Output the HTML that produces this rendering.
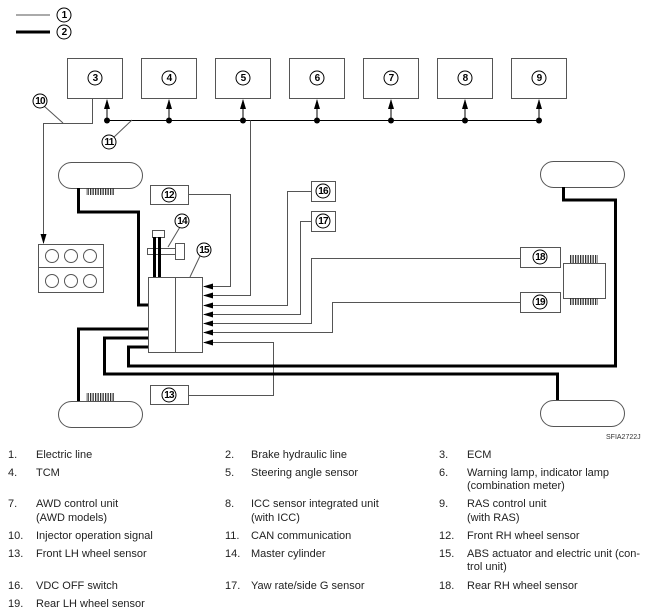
<!DOCTYPE html>
<html><head><meta charset="utf-8"><style>
body{margin:0;background:#fff;width:653px;height:616px;overflow:hidden;font-family:"Liberation Sans",Arial,sans-serif}
svg{position:absolute;left:0;top:0}
.t{font-size:11px;fill:#222}
.n{font-size:10px;font-weight:bold;fill:#000;text-anchor:middle;dominant-baseline:central;letter-spacing:-0.8px}
</style></head><body>
<svg width="653" height="616" viewBox="0 0 653 616">
<defs>
<marker id="ar" markerWidth="10" markerHeight="8" refX="9" refY="4" orient="auto" markerUnits="userSpaceOnUse"><path d="M0,1 L10,4 L0,7 Z" fill="#000"/></marker>
<pattern id="tr" width="2.5" height="8" patternUnits="userSpaceOnUse"><rect width="1.3" height="8" fill="#333"/></pattern>
</defs>
<g fill="none" stroke="#555" stroke-width="1">
<line x1="16" y1="15" x2="50" y2="15"/>
<line x1="16" y1="32" x2="50" y2="32" stroke="#000" stroke-width="3"/>
<rect x="67.5" y="58.5" width="55" height="40"/>
<rect x="141.5" y="58.5" width="55" height="40"/>
<rect x="215.5" y="58.5" width="55" height="40"/>
<rect x="289.5" y="58.5" width="55" height="40"/>
<rect x="363.5" y="58.5" width="55" height="40"/>
<rect x="437.5" y="58.5" width="55" height="40"/>
<rect x="511.5" y="58.5" width="55" height="40"/>
<line x1="107" y1="120.5" x2="539" y2="120.5" stroke="#000"/>
<polyline points="92.5,98 92.5,123.5 43.5,123.5 43.5,243" marker-end="url(#ar)"/>
<line x1="44" y1="106" x2="63" y2="123"/>
<line x1="113" y1="138" x2="132" y2="120"/>
<rect x="58.5" y="162.5" width="84" height="26" rx="13"/>
<rect x="58.5" y="401.5" width="84" height="26" rx="13"/>
<rect x="540.5" y="161.5" width="84" height="26" rx="13"/>
<rect x="540.5" y="400.5" width="84" height="26" rx="13"/>
<rect x="38.5" y="244.5" width="65" height="48"/>
<line x1="38.5" y1="267.5" x2="103.5" y2="267.5"/>
<circle cx="52" cy="256" r="6.5"/><circle cx="71" cy="256" r="6.5"/><circle cx="90" cy="256" r="6.5"/>
<circle cx="52" cy="281" r="6.5"/><circle cx="71" cy="281" r="6.5"/><circle cx="90" cy="281" r="6.5"/>
<rect x="148.5" y="277.5" width="54" height="75"/>
<line x1="175.5" y1="277.5" x2="175.5" y2="352.5"/>
<rect x="152.5" y="230.5" width="12" height="7"/>
<rect x="147.5" y="248.5" width="28" height="6"/>
<rect x="175.5" y="243.5" width="9" height="16"/>
<line x1="168" y1="247" x2="180" y2="227"/>
<line x1="190" y1="277" x2="200" y2="256"/>
<rect x="150.5" y="185.5" width="38" height="19"/>
<rect x="150.5" y="385.5" width="38" height="19"/>
<rect x="311.5" y="181.5" width="24" height="20"/>
<rect x="311.5" y="211.5" width="24" height="20"/>
<rect x="520.5" y="247.5" width="40" height="20"/>
<rect x="520.5" y="292.5" width="40" height="20"/>
<rect x="563.5" y="263.5" width="42" height="35"/>
<polyline points="188,194.5 230.5,194.5 230.5,286.5 204,286.5" marker-end="url(#ar)"/>
<polyline points="250.5,120.5 250.5,295.5 204,295.5" marker-end="url(#ar)"/>
<polyline points="311,191.5 287.5,191.5 287.5,305.5 204,305.5" marker-end="url(#ar)"/>
<polyline points="311,221.5 300.5,221.5 300.5,314.5 204,314.5" marker-end="url(#ar)"/>
<polyline points="520,258.5 311.5,258.5 311.5,323.5 204,323.5" marker-end="url(#ar)"/>
<polyline points="520,302.5 332.5,302.5 332.5,332.5 204,332.5" marker-end="url(#ar)"/>
<polyline points="188,395.5 273.5,395.5 273.5,342.5 204,342.5" marker-end="url(#ar)"/>
<line x1="107" y1="120" x2="107" y2="100" stroke="#000" marker-end="url(#ar)"/>
<line x1="169" y1="120" x2="169" y2="100" stroke="#000" marker-end="url(#ar)"/>
<line x1="243" y1="120" x2="243" y2="100" stroke="#000" marker-end="url(#ar)"/>
<line x1="317" y1="120" x2="317" y2="100" stroke="#000" marker-end="url(#ar)"/>
<line x1="391" y1="120" x2="391" y2="100" stroke="#000" marker-end="url(#ar)"/>
<line x1="465" y1="120" x2="465" y2="100" stroke="#000" marker-end="url(#ar)"/>
<line x1="539" y1="120" x2="539" y2="100" stroke="#000" marker-end="url(#ar)"/>
</g>
<g fill="#000">
<circle cx="107" cy="120.5" r="3"/><circle cx="169" cy="120.5" r="3"/><circle cx="243" cy="120.5" r="3"/><circle cx="317" cy="120.5" r="3"/><circle cx="391" cy="120.5" r="3"/><circle cx="465" cy="120.5" r="3"/><circle cx="539" cy="120.5" r="3"/>
</g>
<rect x="86" y="188" width="28" height="7" fill="url(#tr)"/>
<rect x="86" y="393" width="28" height="8" fill="url(#tr)"/>
<rect x="570" y="255" width="28" height="8" fill="url(#tr)"/>
<rect x="570" y="298" width="28" height="7" fill="url(#tr)"/>
<g fill="none" stroke="#000" stroke-width="3">
<polyline points="78.5,188 78.5,212 138.5,212 138.5,305 148,305"/>
<polyline points="148,329 78.5,329 78.5,401"/>
<polyline points="148,338 104.5,338 104.5,374 557.5,374 557.5,400"/>
<polyline points="148,347 128.5,347 128.5,366 615.5,366 615.5,200 563.5,200 563.5,187"/>
<line x1="154.5" y1="237" x2="154.5" y2="277"/>
<line x1="159.5" y1="237" x2="159.5" y2="277"/>
</g>
<g fill="#fff" stroke="#000" stroke-width="1">
<circle cx="64" cy="15" r="7"/><circle cx="64" cy="32" r="7"/>
<circle cx="95" cy="78" r="7"/><circle cx="169" cy="78" r="7"/><circle cx="243" cy="78" r="7"/><circle cx="317" cy="78" r="7"/><circle cx="391" cy="78" r="7"/><circle cx="465" cy="78" r="7"/><circle cx="539" cy="78" r="7"/>
<circle cx="40" cy="101" r="7"/><circle cx="109" cy="142" r="7"/>
<circle cx="169" cy="195" r="7"/><circle cx="169" cy="395" r="7"/>
<circle cx="182" cy="221" r="7"/><circle cx="204" cy="250" r="7"/>
<circle cx="323" cy="191" r="7"/><circle cx="323" cy="221" r="7"/>
<circle cx="540" cy="257" r="7"/><circle cx="540" cy="302" r="7"/>
</g>
<g class="n">
<text x="64" y="15.5">1</text><text x="64" y="32.5">2</text>
<text x="95" y="78.5">3</text><text x="169" y="78.5">4</text><text x="243" y="78.5">5</text><text x="317" y="78.5">6</text><text x="391" y="78.5">7</text><text x="465" y="78.5">8</text><text x="539" y="78.5">9</text>
<text x="40" y="101.5">10</text><text x="109" y="142.5">11</text>
<text x="169" y="195.5">12</text><text x="169" y="395.5">13</text>
<text x="182" y="221.5">14</text><text x="204" y="250.5">15</text>
<text x="323" y="191.5">16</text><text x="323" y="221.5">17</text>
<text x="540" y="257.5">18</text><text x="540" y="302.5">19</text>
</g>
<text x="606" y="439" style="font-size:7px;fill:#333">SFIA2722J</text>
<g class="t">
<text x="8" y="458">1.</text><text x="36" y="458">Electric line</text>
<text x="225" y="458">2.</text><text x="251" y="458">Brake hydraulic line</text>
<text x="439" y="458">3.</text><text x="467" y="458">ECM</text>
<text x="8" y="476">4.</text><text x="36" y="476">TCM</text>
<text x="225" y="476">5.</text><text x="251" y="476">Steering angle sensor</text>
<text x="439" y="476">6.</text><text x="467" y="476">Warning lamp, indicator lamp</text><text x="467" y="489">(combination meter)</text>
<text x="8" y="507">7.</text><text x="36" y="507">AWD control unit</text><text x="36" y="521">(AWD models)</text>
<text x="225" y="507">8.</text><text x="251" y="507">ICC sensor integrated unit</text><text x="251" y="521">(with ICC)</text>
<text x="439" y="507">9.</text><text x="467" y="507">RAS control unit</text><text x="467" y="521">(with RAS)</text>
<text x="8" y="539">10.</text><text x="36" y="539">Injector operation signal</text>
<text x="225" y="539">11.</text><text x="251" y="539">CAN communication</text>
<text x="439" y="539">12.</text><text x="467" y="539">Front RH wheel sensor</text>
<text x="8" y="557">13.</text><text x="36" y="557">Front LH wheel sensor</text>
<text x="225" y="557">14.</text><text x="251" y="557">Master cylinder</text>
<text x="439" y="557">15.</text><text x="467" y="557">ABS actuator and electric unit (con-</text><text x="467" y="570">trol unit)</text>
<text x="8" y="589">16.</text><text x="36" y="589">VDC OFF switch</text>
<text x="225" y="589">17.</text><text x="251" y="589">Yaw rate/side G sensor</text>
<text x="439" y="589">18.</text><text x="467" y="589">Rear RH wheel sensor</text>
<text x="8" y="607">19.</text><text x="36" y="607">Rear LH wheel sensor</text>
</g>
</svg>
</body></html>
